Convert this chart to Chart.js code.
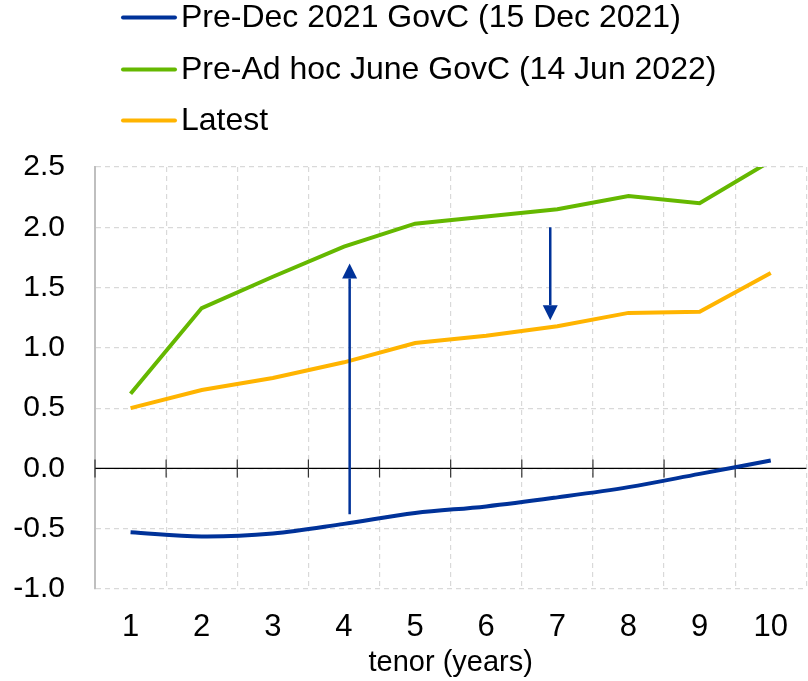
<!DOCTYPE html>
<html>
<head>
<meta charset="utf-8">
<script src="https://cdn.jsdelivr.net/npm/chart.js@4.4.1/dist/chart.umd.min.js"></script>
<style>
  html, body { margin: 0; padding: 0; background: #ffffff; }
  #wrap { width: 808px; height: 681px; position: relative; }
</style>
</head>
<body>
<div id="wrap"><canvas id="chart"></canvas></div>
<script>
// Tenors on the x axis (years)
const tenors = ['1', '2', '3', '4', '5', '6', '7', '8', '9', '10'];

// Curves (%)
const preDec2021 = [-0.53, -0.565, -0.54, -0.46, -0.37, -0.315, -0.24, -0.155, -0.045, 0.066];
const preAdHocJune = [0.62, 1.33, 1.59, 1.84, 2.03, 2.09, 2.15, 2.26, 2.20, 2.55];
const latest = [0.50, 0.65, 0.75, 0.88, 1.04, 1.10, 1.18, 1.29, 1.30, 1.62];

const seriesNames = [
  'Pre-Dec 2021 GovC (15 Dec 2021)',
  'Pre-Ad hoc June GovC (14 Jun 2022)',
  'Latest'
];

// Annotation arrows: position on the tenor axis (category index) and start/end values
const arrowAt = [3.08, 5.9];
const arrowFrom = [-0.38, 2.0];
const arrowTo = [1.70, 1.23];

const BLUE = '#003299';
const GREEN = '#65b800';
const ORANGE = '#ffb400';
const FONT = "'Liberation Sans', Arial, sans-serif";

// Horizontal zero line with small tick marks at the category boundaries
const zeroLine = {
  id: 'zeroLine',
  beforeDatasetsDraw(chart) {
    const { ctx, chartArea, scales } = chart;
    const y = scales.y.getPixelForValue(0);
    ctx.save();
    ctx.strokeStyle = '#000000';
    ctx.lineWidth = 1.2;
    ctx.beginPath();
    ctx.moveTo(chartArea.left, y);
    ctx.lineTo(chartArea.right, y);
    ctx.stroke();
    ctx.strokeStyle = '#333333';
    for (let i = 0; i < tenors.length; i++) {
      const x = scales.x.getPixelForValue(i - 0.5);
      ctx.beginPath();
      ctx.moveTo(x, y - 9);
      ctx.lineTo(x, y + 9);
      ctx.stroke();
    }
    ctx.restore();
  }
};

// Arrows showing the shift between curves
const arrows = {
  id: 'arrows',
  afterDatasetsDraw(chart) {
    const { ctx, scales } = chart;
    ctx.save();
    ctx.strokeStyle = BLUE;
    ctx.fillStyle = BLUE;
    ctx.lineWidth = 2.5;
    for (let i = 0; i < arrowAt.length; i++) {
      const x = scales.x.getPixelForValue(arrowAt[i]);
      const y0 = scales.y.getPixelForValue(arrowFrom[i]);
      const y1 = scales.y.getPixelForValue(arrowTo[i]);
      const dir = y1 < y0 ? -1 : 1;
      const head = 15, half = 7.5;
      ctx.beginPath();
      ctx.moveTo(x, y0);
      ctx.lineTo(x, y1 - dir * head);
      ctx.stroke();
      ctx.beginPath();
      ctx.moveTo(x, y1);
      ctx.lineTo(x - half, y1 - dir * head);
      ctx.lineTo(x + half, y1 - dir * head);
      ctx.closePath();
      ctx.fill();
    }
    ctx.restore();
  }
};

// Legend stacked in one column at the top
const stackedLegend = {
  id: 'stackedLegend',
  afterDraw(chart) {
    const { ctx } = chart;
    const rows = [17.5, 69.5, 120.5];
    ctx.save();
    chart.data.datasets.forEach((ds, i) => {
      const y = rows[i];
      ctx.strokeStyle = ds.borderColor;
      ctx.lineWidth = 4;
      ctx.lineCap = 'round';
      ctx.beginPath();
      ctx.moveTo(123, y);
      ctx.lineTo(175, y);
      ctx.stroke();
      ctx.fillStyle = '#000000';
      ctx.font = "32px " + FONT;
      ctx.textBaseline = 'middle';
      ctx.textAlign = 'left';
      ctx.fillText(ds.label, 181, y + 1);
    });
    ctx.restore();
  }
};

new Chart(document.getElementById('chart'), {
  type: 'line',
  data: {
    labels: tenors,
    datasets: [
      { label: seriesNames[0], data: preDec2021, borderColor: BLUE, backgroundColor: BLUE, borderWidth: 4, tension: 0.35, pointRadius: 0, clip: 0 },
      { label: seriesNames[1], data: preAdHocJune, borderColor: GREEN, backgroundColor: GREEN, borderWidth: 4, tension: 0, pointRadius: 0, clip: 0 },
      { label: seriesNames[2], data: latest, borderColor: ORANGE, backgroundColor: ORANGE, borderWidth: 4, tension: 0, pointRadius: 0, clip: 0 }
    ]
  },
  options: {
    responsive: true,
    maintainAspectRatio: false,
    animation: false,
    layout: { padding: { top: 167, right: 0, left: 0, bottom: 0 } },
    plugins: {
      legend: { display: false },
      tooltip: { enabled: false }
    },
    scales: {
      x: {
        type: 'category',
        offset: true,
        afterFit: (scale) => { scale.height = 92; },
        grid: { offset: true, color: '#d9d9d9', lineWidth: 1.2, drawTicks: false },
        border: { display: false, dash: [5, 4] },
        ticks: { color: '#000000', font: { family: FONT, size: 31 }, padding: 20, maxRotation: 0 },
        title: { display: true, text: 'tenor (years)', color: '#000000', font: { family: FONT, size: 29 }, padding: { top: 0, bottom: 1 } }
      },
      y: {
        min: -1,
        max: 2.5,
        afterFit: (scale) => { scale.width = 95; },
        grid: { color: '#d9d9d9', lineWidth: 1.2, drawTicks: false },
        border: { display: true, color: '#bfbfbf', width: 2, dash: [5, 4] },
        ticks: {
          stepSize: 0.5,
          color: '#000000',
          font: { family: FONT, size: 30 },
          padding: 30,
          callback: (v) => Number(v).toFixed(1)
        }
      }
    }
  },
  plugins: [zeroLine, arrows, stackedLegend]
});
</script>
</body>
</html>
